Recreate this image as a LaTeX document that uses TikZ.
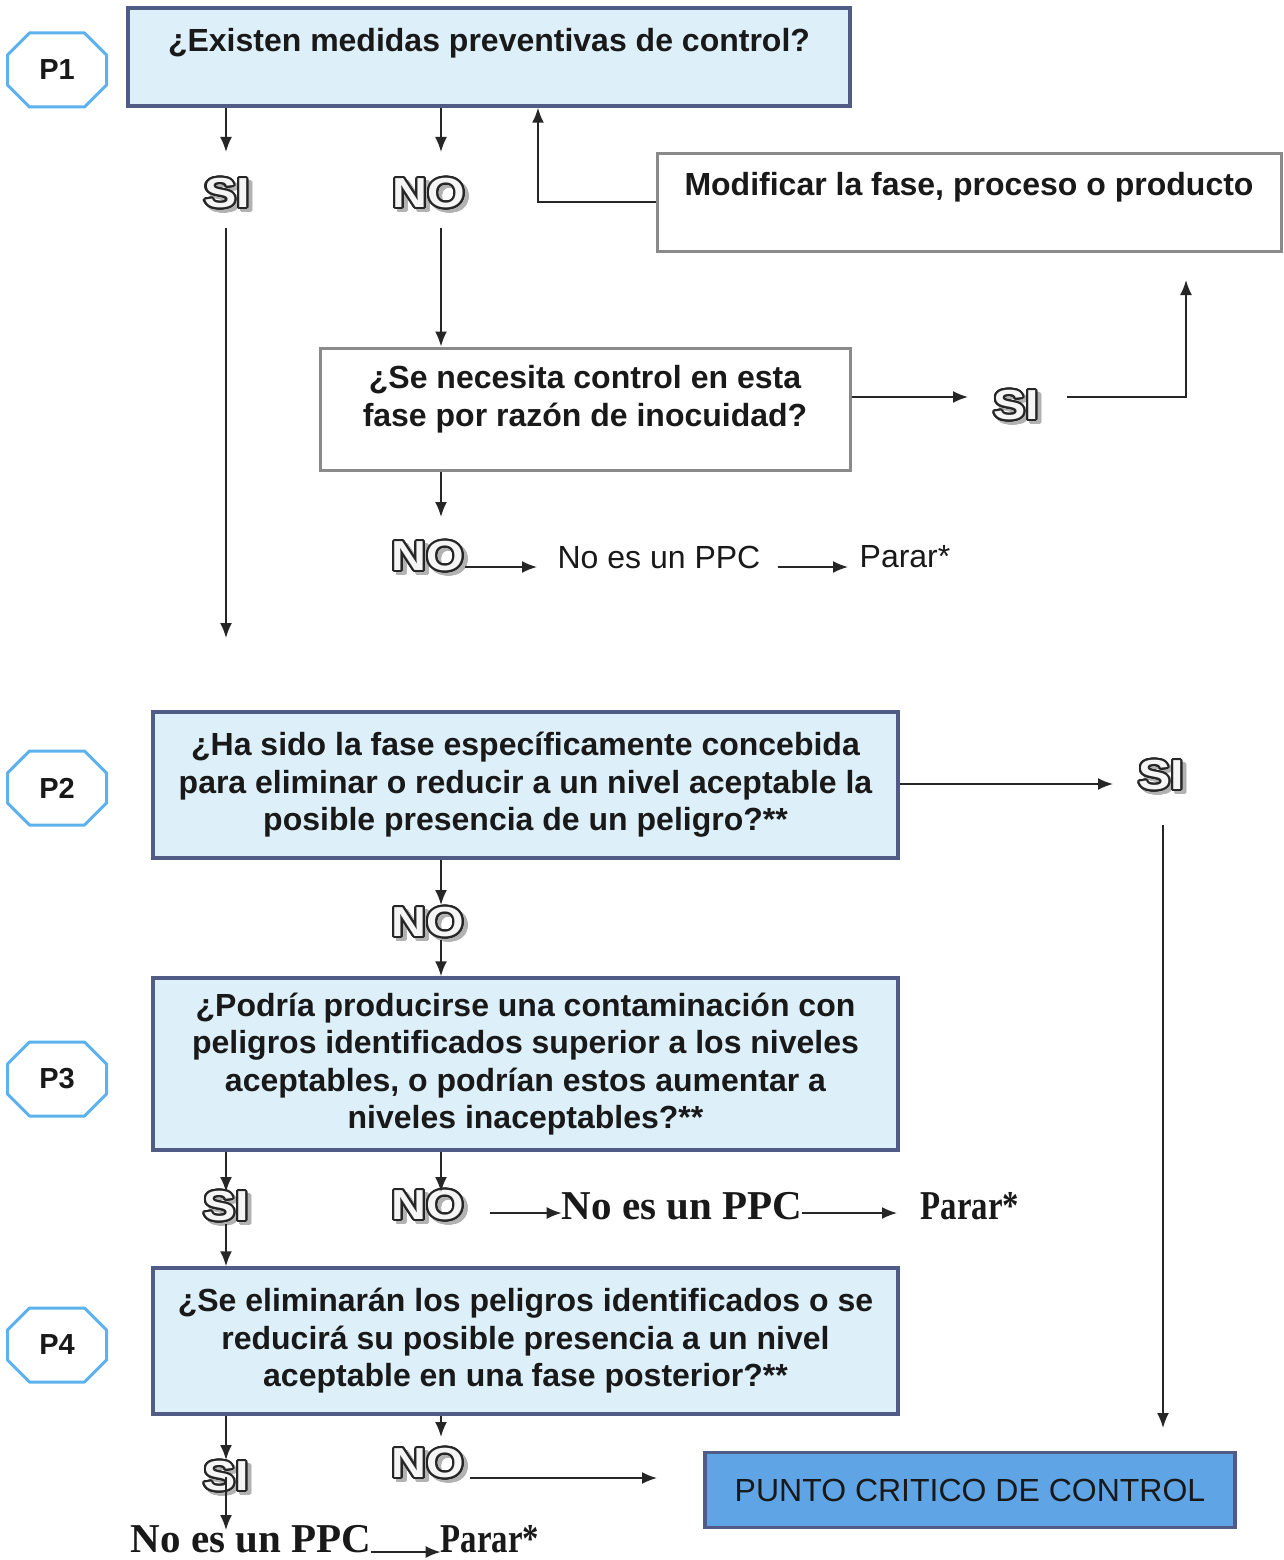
\documentclass[tikz,border=0pt]{standalone}
\usepackage{fontspec}
\setmainfont{Liberation Sans}
\newfontfamily\tnr{Liberation Serif}
\usepackage{graphicx}
\usepackage{contour}
\usetikzlibrary{arrows.meta,calc}
\definecolor{boxfill}{HTML}{DDF0FA}
\definecolor{boxedge}{HTML}{505B86}
\definecolor{pccfill}{HTML}{5FA5E6}
\definecolor{octedge}{HTML}{5DB1EC}
\definecolor{grayedge}{HTML}{8A8A8A}
\contourlength{1.9pt}
\contournumber{24}
\newcommand\sino[3]{%
  \node[sinosh] (#1sh) at ($(#2)+(3.5,3.5)$) {\scalebox{1.15}[1]{\contour{gray!60}{#3}}};
  \node[sino] (#1) at (#2) {\scalebox{1.15}[1]{\contour{black!85}{#3}}};}
\newcommand\octo[3]{%
  \node[ptext] (#1) at (#2) {#3};
  \draw[octobox] ($(#1)+(-27.5,-37)$) -- ($(#1)+(27.5,-37)$) -- ($(#1)+(49.5,-15)$) -- ($(#1)+(49.5,15)$)
     -- ($(#1)+(27.5,37)$) -- ($(#1)+(-27.5,37)$) -- ($(#1)+(-49.5,15)$) -- ($(#1)+(-49.5,-15)$) -- cycle;}
\begin{document}
\begin{tikzpicture}[x=1pt,y=-1pt,
  conn/.style={line width=1.8pt,draw=black!85,-{Latex[length=15pt,width=12pt]}},
  qbox/.style={draw=boxedge,line width=3.5pt,fill=boxfill,inner sep=0pt,align=center,
     font=\fontsize{32}{37.5}\selectfont\bfseries,text=black!90},
  wbox/.style={draw=grayedge,line width=3pt,fill=white,inner sep=0pt,align=center,
     font=\fontsize{32}{37.5}\selectfont\bfseries,text=black!90},
  ptext/.style={inner sep=0pt,font=\fontsize{29}{29}\selectfont\bfseries,text=black!90},
  octobox/.style={draw=octedge,line width=3pt,line join=round},
  plain/.style={inner sep=0pt,font=\fontsize{32}{32}\selectfont,text=black!90},
  serif/.style={inner sep=0pt,font=\tnr\fontsize{41}{41}\selectfont\bfseries,text=black!90},
  sino/.style={inner sep=0pt,text=gray!8,font=\fontsize{42}{42}\selectfont\bfseries},
  sinosh/.style={inner sep=0pt,text=gray!60,font=\fontsize{42}{42}\selectfont\bfseries},
  pccbox/.style={draw=boxedge,line width=3.5pt,fill=pccfill,inner sep=0pt,
     font=\fontsize{32}{32}\selectfont,text=black!90}
]
\fill[white] (0,0) rectangle (1283,1560);
\useasboundingbox (0,0) rectangle (1283,1560);

% column coordinates
\coordinate (colS) at (226,0);
\coordinate (colN) at (441,0);
\coordinate (colM) at (538,0);

% P labels
\octo{p1}{57,70}{P1}
\octo{p2}{57,788}{P2}
\octo{p3}{57,1079}{P3}
\octo{p4}{57,1345}{P4}

% boxes
\node[qbox,minimum width=722,minimum height=98] (b1) at (489,57)
  {\raisebox{14pt}[\height][\depth]{¿Existen medidas preventivas de control?}};
\node[wbox,minimum width=624,minimum height=98] (mod) at (969,202)
  {\raisebox{15pt}[\height][\depth]{Modificar la fase, proceso o producto}};
\node[wbox,minimum width=530,minimum height=122] (b2) at (585,409)
  {\raisebox{9pt}[\height][\depth]{\begin{tabular}{@{}c@{}}¿Se necesita control en esta\\fase por razón de inocuidad?\end{tabular}}};
\node[qbox,minimum width=745,minimum height=146] (b3) at (525.5,785)
  {¿Ha sido la fase específicamente concebida\\para eliminar o reducir a un nivel aceptable la\\posible presencia de un peligro?**};
\node[qbox,minimum width=745,minimum height=172] (b4) at (525.5,1064)
  {¿Podría producirse una contaminación con\\peligros identificados superior a los niveles\\aceptables, o podrían estos aumentar a\\niveles inaceptables?**};
\node[qbox,minimum width=745,minimum height=146] (b5) at (525.5,1341)
  {¿Se eliminarán los peligros identificados o se\\reducirá su posible presencia a un nivel\\aceptable en una fase posterior?**};
\node[pccbox,minimum width=530,minimum height=75] (pcc) at (970,1490) {PUNTO CRITICO DE CONTROL};

% plain texts
\node[plain] (ppc1) at (659,557) {No es un PPC};
\node[plain] (par1) at (905,557) {Parar*};
\node[serif] (ppc2) at (682,1206) {No es un PPC};
\node[serif] (par2) at (970,1206) {\scalebox{0.8}[1]{Parar*}};
\node[serif] (ppc3) at (251,1539) {No es un PPC};
\node[serif] (par3) at (490,1539) {\scalebox{0.8}[1]{Parar*}};

% SI / NO labels
\sino{si1}{227,194}{SI}
\sino{no1}{429,194}{NO}
\sino{si2}{1016,406}{SI}
\sino{no2}{428,557}{NO}
\sino{si3}{1161,776}{SI}
\sino{no3}{428,923}{NO}
\sino{si4}{226,1207}{SI}
\sino{no4}{428,1206}{NO}
\sino{si5}{226,1477}{SI}
\sino{no5}{428,1464}{NO}

% free-end coordinates
\coordinate (c1) at (226,152);
\coordinate (c2) at (441,152);
\coordinate (c3) at (226,228);
\coordinate (c4) at (226,638);
\coordinate (c5) at (441,228);
\coordinate (c7) at (968,397);
\coordinate (c8) at (1067,397);
\coordinate (c9) at (1186,280);
\coordinate (c10) at (441,517);
\coordinate (c11) at (465,567);
\coordinate (c12) at (537,567);
\coordinate (c13) at (778,567);
\coordinate (c14) at (848,567);
\coordinate (c15) at (1113,784);
\coordinate (c16) at (1163,825);
\coordinate (c17) at (1163,1428);
\coordinate (c18) at (441,905);
\coordinate (c19) at (441,940);
\coordinate (c20) at (226,1192);
\coordinate (c21) at (226,1224);
\coordinate (c22) at (441,1192);
\coordinate (c23) at (490,1213);
\coordinate (c24) at (897,1213);
\coordinate (c25) at (226,1460);
\coordinate (c26) at (226,1530);
\coordinate (c27) at (441,1437);
\coordinate (c28) at (470,1478);
\coordinate (c29) at (657,1478);
\coordinate (c30) at (0,1552);

% connectors
\draw[conn] (b1.south -| c1) -- (c1);
\draw[conn] (b1.south -| c2) -- (c2);
\draw[conn] (c3) -- (c4);
\draw[conn] (c5) -- (b2.north -| c5);
\draw[conn] (mod.west) -| (b1.south -| colM);
\draw[conn] (b2.east |- c7) -- (c7);
\draw[conn] (c8) -| (c9);
\draw[conn] (b2.south -| c10) -- (c10);
\draw[conn] (c11) -- (c12);
\draw[conn] (c13) -- (c14);
\draw[conn] (b3.east |- c15) -- (c15);
\draw[conn] (c16) -- (c17);
\draw[conn] (b3.south -| c18) -- (c18);
\draw[conn] (c19) -- (b4.north -| c19);
\draw[conn] (b4.south -| c20) -- (c20);
\draw[conn] (c21) -- (b5.north -| c21);
\draw[conn] (b4.south -| c22) -- (c22);
\draw[conn] (c23) -- (ppc2.west |- c23);
\draw[conn] (ppc2.east |- c23) -- (c24);
\draw[conn] (b5.south -| c25) -- (c25);
\draw[conn] (si5.center -| c26) -- (c26);
\draw[conn] (b5.south -| c27) -- (c27);
\draw[conn] (c28) -- (c29);
\draw[conn] (ppc3.east |- c30) -- (par3.west |- c30);
\end{tikzpicture}
\end{document}
